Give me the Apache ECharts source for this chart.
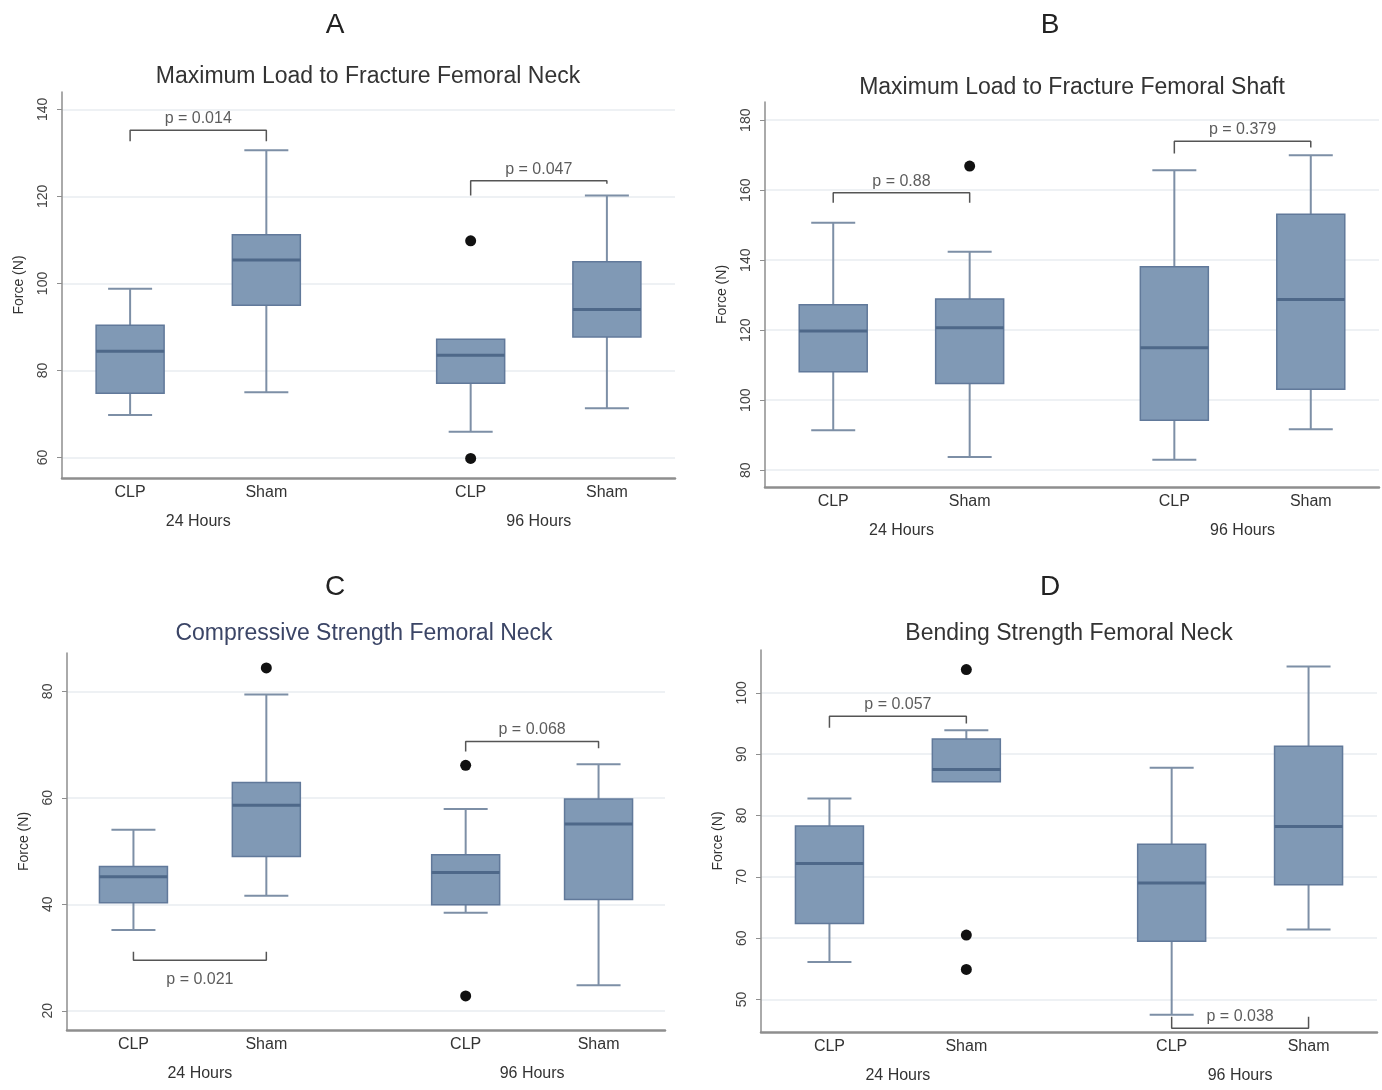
<!DOCTYPE html>
<html>
<head>
<meta charset="utf-8">
<script src="https://cdn.jsdelivr.net/npm/echarts@6/dist/echarts.min.js"></script>
<style>
html, body { margin: 0; background: #fff; }
#main { width: 1382px; height: 1090px; }
</style>
</head>
<body>
<div id="main"></div>
<script>
// x slots: CLP / Sham under 24 Hours and 96 Hours, with a gap between the groups
var xTicks = ['', 'CLP', '', 'Sham', '', '', 'CLP', '', 'Sham', ''];
var xGroups = ['', '', '24 Hours', '', '', '', '', '96 Hours', '', ''];
var boxSlots = [1, 3, 6, 8];

// box = [min, Q1, median, Q3, max]
var boxesA = [[69.8, 74.8, 84.4, 90.4, 98.8], [75.0, 95.0, 105.4, 111.2, 130.6], [65.9, 77.1, 83.5, 87.2, 87.2], [71.3, 87.7, 94.0, 105.0, 120.2]];
var outliersA = [[6, 109.8], [6, 59.8]];
var bracketsA = [[1, 3, 135.2, 132.7, 132.7], [6, 8, 123.6, 120.2, 122.9]];
var pA = ['p = 0.014', 'p = 0.047'];
var ticksA = [60, 80, 100, 120, 140];

var boxesB = [[91.4, 108.1, 119.8, 127.3, 150.7], [83.8, 104.8, 120.7, 128.9, 142.4], [83.0, 94.3, 115.0, 138.1, 165.7], [91.7, 103.1, 128.8, 153.1, 170.0]];
var outliersB = [[3, 166.9]];
var bracketsB = [[1, 3, 159.3, 156.4, 156.4], [6, 8, 174.0, 170.5, 172.2]];
var pB = ['p = 0.88', 'p = 0.379'];
var ticksB = [80, 100, 120, 140, 160, 180];

var boxesC = [[35.2, 40.3, 45.2, 47.1, 54.0], [41.6, 49.0, 58.6, 62.9, 79.4], [38.4, 39.9, 46.0, 49.3, 57.9], [24.8, 40.9, 55.1, 59.8, 66.3]];
var outliersC = [[3, 84.4], [6, 66.1], [6, 22.8]];
var bracketsC = [[1, 3, 29.5, 31.1, 31.1], [6, 8, 70.6, 68.7, 69.3]];
var pC = ['p = 0.021', 'p = 0.068'];
var ticksC = [20, 40, 60, 80];

var boxesD = [[56.1, 62.4, 72.2, 78.3, 82.8], [85.5, 85.5, 87.5, 92.5, 93.9], [47.5, 59.5, 69.0, 75.3, 87.8], [61.4, 68.7, 78.2, 91.3, 104.3]];
var outliersD = [[3, 103.8], [3, 60.5], [3, 54.9]];
var bracketsD = [[1, 3, 96.2, 94.3, 95.0], [6, 8, 45.3, 47.2, 47.2]];
var pD = ['p = 0.057', 'p = 0.038'];
var ticksD = [50, 60, 70, 80, 90, 100];

var panels = [
  { letter: 'A', title: 'Maximum Load to Fracture Femoral Neck', boxes: boxesA, outliers: outliersA, brackets: bracketsA, pvals: pA, ticks: ticksA,
    min: 55.3, max: 144, grid: { left: 62, top: 92, width: 613, height: 386 }, letterPos: [335, 25], titlePos: [368, 77], pSide: ['top', 'top'], titleColor: '#333' },
  { letter: 'B', title: 'Maximum Load to Fracture Femoral Shaft', boxes: boxesB, outliers: outliersB, brackets: bracketsB, pvals: pB, ticks: ticksB,
    min: 75.2, max: 185.2, grid: { left: 765, top: 102, width: 614, height: 385 }, letterPos: [1050, 25], titlePos: [1072, 88], pSide: ['top', 'top'], titleColor: '#333' },
  { letter: 'C', title: 'Compressive Strength Femoral Neck', boxes: boxesC, outliers: outliersC, brackets: bracketsC, pvals: pC, ticks: ticksC,
    min: 16.4, max: 87.2, grid: { left: 67, top: 653, width: 598, height: 377 }, letterPos: [335, 587], titlePos: [364, 634], pSide: ['bottom', 'top'], titleColor: '#3b4566' },
  { letter: 'D', title: 'Bending Strength Femoral Neck', boxes: boxesD, outliers: outliersD, brackets: bracketsD, pvals: pD, ticks: ticksD,
    min: 44.7, max: 107, grid: { left: 761, top: 650, width: 616, height: 383 }, letterPos: [1050, 587], titlePos: [1069, 634], pSide: ['top', 'top'], titleColor: '#333' }
];

var boxFill = '#8099b5';
var boxLine = '#61799a';
var medianColor = '#4e6889';
var whiskerColor = '#7d8fa6';
var axisColor = '#8e8e8e';

function renderBox(params, api) {
  var x = api.value(0);
  var lo = api.coord([x, api.value(1)]);
  var q1 = api.coord([x, api.value(2)]);
  var md = api.coord([x, api.value(3)]);
  var q3 = api.coord([x, api.value(4)]);
  var hi = api.coord([x, api.value(5)]);
  var cx = lo[0], bw = 68, cw = 44;
  var kids = [];
  var ws = { stroke: whiskerColor, lineWidth: 2 };
  if (hi[1] < q3[1] - 1) {
    kids.push({ type: 'line', shape: { x1: cx, y1: hi[1], x2: cx, y2: q3[1] }, style: ws });
    kids.push({ type: 'line', shape: { x1: cx - cw / 2, y1: hi[1], x2: cx + cw / 2, y2: hi[1] }, style: ws });
  }
  if (lo[1] > q1[1] + 1) {
    kids.push({ type: 'line', shape: { x1: cx, y1: q1[1], x2: cx, y2: lo[1] }, style: ws });
    kids.push({ type: 'line', shape: { x1: cx - cw / 2, y1: lo[1], x2: cx + cw / 2, y2: lo[1] }, style: ws });
  }
  kids.push({ type: 'rect', shape: { x: cx - bw / 2, y: q3[1], width: bw, height: q1[1] - q3[1] },
    style: { fill: boxFill, stroke: boxLine, lineWidth: 1.5 } });
  kids.push({ type: 'line', shape: { x1: cx - bw / 2, y1: md[1], x2: cx + bw / 2, y2: md[1] },
    style: { stroke: medianColor, lineWidth: 3 } });
  return { type: 'group', children: kids };
}

var grids = [], xAxes = [], yAxes = [], series = [], graphics = [];

panels.forEach(function (p, i) {
  grids.push(p.grid);
  xAxes.push({
    type: 'category', gridIndex: i, boundaryGap: false,
    data: xTicks.map(function (t, k) { return String(k); }),
    axisLine: { lineStyle: { color: axisColor, width: 2.5 } },
    axisTick: { show: false },
    axisLabel: {
      interval: 0, margin: 0, fontSize: 16, lineHeight: 29, color: '#333', fontFamily: 'Liberation Sans',
      formatter: function (v, k) { return xTicks[k] + '\n' + xGroups[k]; }
    },
    splitLine: { show: false }
  });
  yAxes.push({
    type: 'value', gridIndex: i, min: p.min, max: p.max,
    name: 'Force (N)', nameLocation: 'middle', nameGap: 36, nameRotate: 90,
    nameTextStyle: { fontSize: 14, color: '#333', fontFamily: 'Liberation Sans' },
    axisLine: { show: true, lineStyle: { color: axisColor, width: 1.5 } },
    axisTick: { show: true, length: 5, customValues: p.ticks, lineStyle: { color: axisColor } },
    axisLabel: { customValues: p.ticks, rotate: 90, margin: 12, fontSize: 14, color: '#444', fontFamily: 'Liberation Sans' },
    splitLine: { show: true, lineStyle: { color: '#e9ecf0', width: 1.5 } }
  });
  series.push({
    type: 'custom', xAxisIndex: i, yAxisIndex: i, renderItem: renderBox,
    encode: { x: 0, y: [1, 2, 3, 4, 5] },
    data: p.boxes.map(function (b, k) { return [boxSlots[k]].concat(b); }),
    z: 2
  });
  series.push({
    type: 'scatter', xAxisIndex: i, yAxisIndex: i, data: p.outliers,
    symbolSize: 11, itemStyle: { color: '#111', opacity: 1 }, z: 3
  });
  p.brackets.forEach(function (br) {
    series.push({
      type: 'line', xAxisIndex: i, yAxisIndex: i, symbol: 'none', z: 4,
      data: [[br[0], br[3]], [br[0], br[2]], [br[1], br[2]], [br[1], br[4]]],
      lineStyle: { color: '#555', width: 1.5 }
    });
  });
  series.push({
    type: 'scatter', xAxisIndex: i, yAxisIndex: i, symbolSize: 1, z: 5,
    itemStyle: { color: 'rgba(0,0,0,0)' },
    data: p.brackets.map(function (br, k) {
      return {
        value: [(br[0] + br[1]) / 2, br[2]],
        label: {
          show: true, position: p.pSide[k], distance: p.pSide[k] === 'bottom' ? 11 : 3,
          formatter: p.pvals[k], fontSize: 16, color: '#333', fontFamily: 'Liberation Sans'
        }
      };
    })
  });
  graphics.push({
    type: 'text', x: p.letterPos[0], y: p.letterPos[1],
    style: { text: p.letter, font: '28px "Liberation Sans"', fill: '#222', textAlign: 'center', textVerticalAlign: 'middle' }
  });
  graphics.push({
    type: 'text', x: p.titlePos[0], y: p.titlePos[1],
    style: { text: p.title, font: '23px "Liberation Sans"', fill: p.titleColor, textAlign: 'center', textVerticalAlign: 'middle' }
  });
});

var myChart = echarts.init(document.getElementById('main'));
var option = {
  backgroundColor: '#fff',
  animation: false,
  grid: grids,
  xAxis: xAxes,
  yAxis: yAxes,
  series: series,
  graphic: graphics
};
myChart.setOption(option);
</script>
</body>
</html>
